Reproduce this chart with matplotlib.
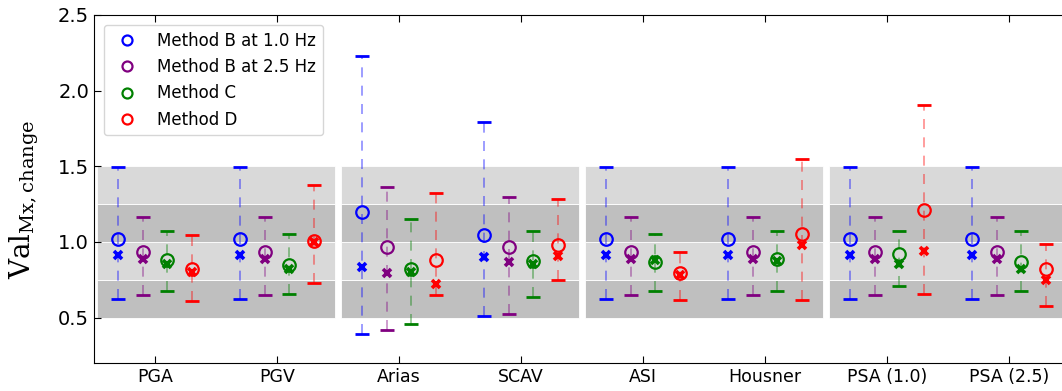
import numpy as np
import matplotlib
matplotlib.use("Agg")
import matplotlib.pyplot as plt

plt.rcParams['mathtext.fontset'] = 'dejavuserif'

# intensity measures on the x axis
measures = ['PGA', 'PGV', 'Arias', 'SCAV', 'ASI', 'Housner', 'PSA (1.0)', 'PSA (2.5)']
methods = ['Method B at 1.0 Hz', 'Method B at 2.5 Hz', 'Method C', 'Method D']
colors = ['blue', 'purple', 'green', 'red']

# circle = mean, cross = median, low/high = error bar ends
mean_b10 = [1.017, 1.017, 1.197, 1.044, 1.017, 1.017, 1.017, 1.017]
median_b10 = [0.912, 0.912, 0.835, 0.901, 0.912, 0.912, 0.912, 0.912]
low_b10 = [0.625, 0.625, 0.39, 0.513, 0.625, 0.625, 0.625, 0.625]
high_b10 = [1.495, 1.495, 2.232, 1.793, 1.495, 1.495, 1.495, 1.495]

mean_b25 = [0.934, 0.934, 0.967, 0.967, 0.934, 0.934, 0.934, 0.934]
median_b25 = [0.89, 0.89, 0.798, 0.868, 0.89, 0.89, 0.89, 0.89]
low_b25 = [0.649, 0.649, 0.418, 0.522, 0.649, 0.649, 0.649, 0.649]
high_b25 = [1.168, 1.168, 1.366, 1.30, 1.168, 1.168, 1.168, 1.168]

mean_c = [0.879, 0.85, 0.82, 0.872, 0.868, 0.89, 0.923, 0.868]
median_c = [0.857, 0.82, 0.80, 0.853, 0.879, 0.872, 0.853, 0.818]
low_c = [0.675, 0.655, 0.458, 0.634, 0.678, 0.678, 0.706, 0.678]
high_c = [1.072, 1.05, 1.149, 1.07, 1.053, 1.072, 1.07, 1.07]

mean_d = [0.82, 1.004, 0.884, 0.982, 0.796, 1.055, 1.212, 0.818]
median_d = [0.80, 1.0, 0.719, 0.905, 0.78, 0.982, 0.938, 0.747]
low_d = [0.612, 0.732, 0.649, 0.747, 0.618, 0.618, 0.653, 0.574]
high_d = [1.043, 1.379, 1.322, 1.281, 0.936, 1.55, 1.903, 0.984]

means = [mean_b10, mean_b25, mean_c, mean_d]
medians = [median_b10, median_b25, median_c, median_d]
lows = [low_b10, low_b25, low_c, low_d]
highs = [high_b10, high_b25, high_c, high_d]
offsets = [-0.3, -0.1, 0.1, 0.3]

fig = plt.figure(figsize=(10.62, 3.91), dpi=100)
ax = fig.add_axes([94 / 1062, 1 - 363 / 391, 976 / 1062, 348 / 391])

x = np.arange(len(measures))

# grey bands behind each pair of measures
for k in range(0, len(measures), 2):
    for lo, hi, c in [(0.5, 0.75, '#bfbfbf'), (0.75, 1.0, '#d9d9d9'),
                      (1.0, 1.25, '#bfbfbf'), (1.25, 1.5, '#d9d9d9')]:
        ax.fill_between([k - 0.475, k + 1.475], lo, hi, facecolor=c,
                        edgecolor='white', linewidth=0.6, zorder=0)

for i in range(len(methods)):
    xs = x + offsets[i]
    m = np.array(means[i])
    lo = np.array(lows[i])
    hi = np.array(highs[i])
    eb = ax.errorbar(xs, m, yerr=[m - lo, hi - m], fmt='none', ecolor=colors[i],
                     capsize=5, capthick=2, elinewidth=1.2, zorder=2)
    eb[2][0].set_linestyle((0, (6, 5)))
    eb[2][0].set_alpha(0.45)
    ax.plot(xs, m, 'o', mfc='none', mec=colors[i], ms=9, mew=1.6,
            label=methods[i], zorder=3)
    ax.plot(xs, medians[i], 'x', color=colors[i], ms=6, mew=2.6, zorder=3)

ax.set_xlim(-0.5, 7.5)
ax.set_ylim(0.2, 2.5)
ax.set_xticks(x)
ax.set_xticklabels(measures, fontsize=12.5)
ax.set_yticks([0.5, 1.0, 1.5, 2.0, 2.5])
ax.tick_params(axis='y', labelsize=14, direction='in', length=5)
ax.tick_params(axis='x', direction='in', top=True, length=5)
ax.set_ylabel(r'$\mathrm{Val}_{\mathrm{Mx,change}}$', fontsize=20)
ax.yaxis.set_label_coords(-0.054, 0.47)

ax.legend(loc='upper left', fontsize=12, markerscale=0.8, borderaxespad=0.6)

fig.savefig('out.png', dpi=100)
